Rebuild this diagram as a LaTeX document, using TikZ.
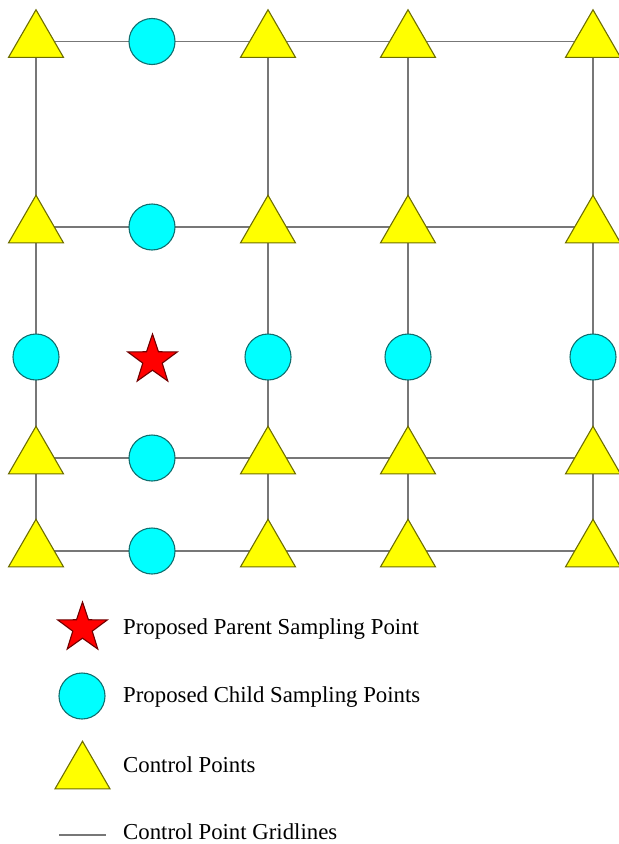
\documentclass[tikz,border=0pt]{standalone}
\usepackage{fontspec}
\setmainfont{Liberation Serif}
\usetikzlibrary{shapes.geometric,backgrounds}
\definecolor{triyellow}{HTML}{FFFF00}
\definecolor{triedge}{HTML}{6E6E00}
\definecolor{circcyan}{HTML}{00FFFF}
\definecolor{circedge}{HTML}{107070}
\definecolor{starred}{HTML}{FF0000}
\definecolor{staredge}{HTML}{700000}
\definecolor{gridgray}{HTML}{777777}
\tikzset{
  ctrlpt/.style={regular polygon, regular polygon sides=3, minimum size=63.5bp, inner sep=0pt,
    fill=triyellow, draw=triedge, line width=1.1bp},
  childpt/.style={circle, minimum size=46bp, inner sep=0pt, fill=circcyan, draw=circedge, line width=1.1bp},
  parentpt/.style={star, star points=5, star point ratio=2.55, minimum size=52bp, inner sep=0pt,
    fill=starred, draw=staredge, line width=1.1bp},
  gridline/.style={draw=gridgray, line width=1.5bp},
  legendtext/.style={anchor=base west, inner sep=0pt, font=\fontsize{22.8bp}{27bp}\selectfont}
}
\begin{document}
\begin{tikzpicture}[x=1bp,y=-1bp]
\useasboundingbox (0,0) rectangle (619,844);
% row 1 (y=41.5)
\node[ctrlpt] (t11) at (36,41.5) {};
\node[childpt] (c12) at (152,41.5) {};
\node[ctrlpt] (t13) at (268,41.5) {};
\node[ctrlpt] (t14) at (408,41.5) {};
\node[ctrlpt] (t15) at (593,41.5) {};
% row 2 (y=227)
\node[ctrlpt] (t21) at (36,227) {};
\node[childpt] (c22) at (152,227) {};
\node[ctrlpt] (t23) at (268,227) {};
\node[ctrlpt] (t24) at (408,227) {};
\node[ctrlpt] (t25) at (593,227) {};
% row 3 (y=357)
\node[childpt] (c31) at (36,357) {};
\node[parentpt] (s32) at (152.5,360) {};
\node[childpt] (c33) at (268,357) {};
\node[childpt] (c34) at (408,357) {};
\node[childpt] (c35) at (593,357) {};
% row 4 (y=458)
\node[ctrlpt] (t41) at (36,458) {};
\node[childpt] (c42) at (152,458) {};
\node[ctrlpt] (t43) at (268,458) {};
\node[ctrlpt] (t44) at (408,458) {};
\node[ctrlpt] (t45) at (593,458) {};
% row 5 (y=551)
\node[ctrlpt] (t51) at (36,551) {};
\node[childpt] (c52) at (152,551) {};
\node[ctrlpt] (t53) at (268,551) {};
\node[ctrlpt] (t54) at (408,551) {};
\node[ctrlpt] (t55) at (593,551) {};
% grid lines behind
\begin{scope}[on background layer]
\foreach \r in {1,2,4,5} {
  \draw[gridline] (t\r1.center) -- (t\r5.center);
}
\foreach \c in {1,3,4,5} {
  \draw[gridline] (t1\c.center) -- (t5\c.center);
}
\end{scope}
% legend
\node[parentpt] (lstar) at (82.5,628) {};
\node[childpt] (lcirc) at (82,696) {};
\node[ctrlpt] (ltri) at (82.5,773) {};
\coordinate (lineA) at (59,835);
\coordinate (lineB) at (106,835);
\draw[gridline] (lineA) -- (lineB);
\node[legendtext] (txt1) at (123,634) {Proposed Parent Sampling Point};
\node[legendtext] (txt2) at (123,702) {Proposed Child Sampling Points};
\node[legendtext] (txt3) at (123,772) {Control Points};
\node[legendtext] (txt4) at (123,839) {Control Point Gridlines};
\end{tikzpicture}
\end{document}
